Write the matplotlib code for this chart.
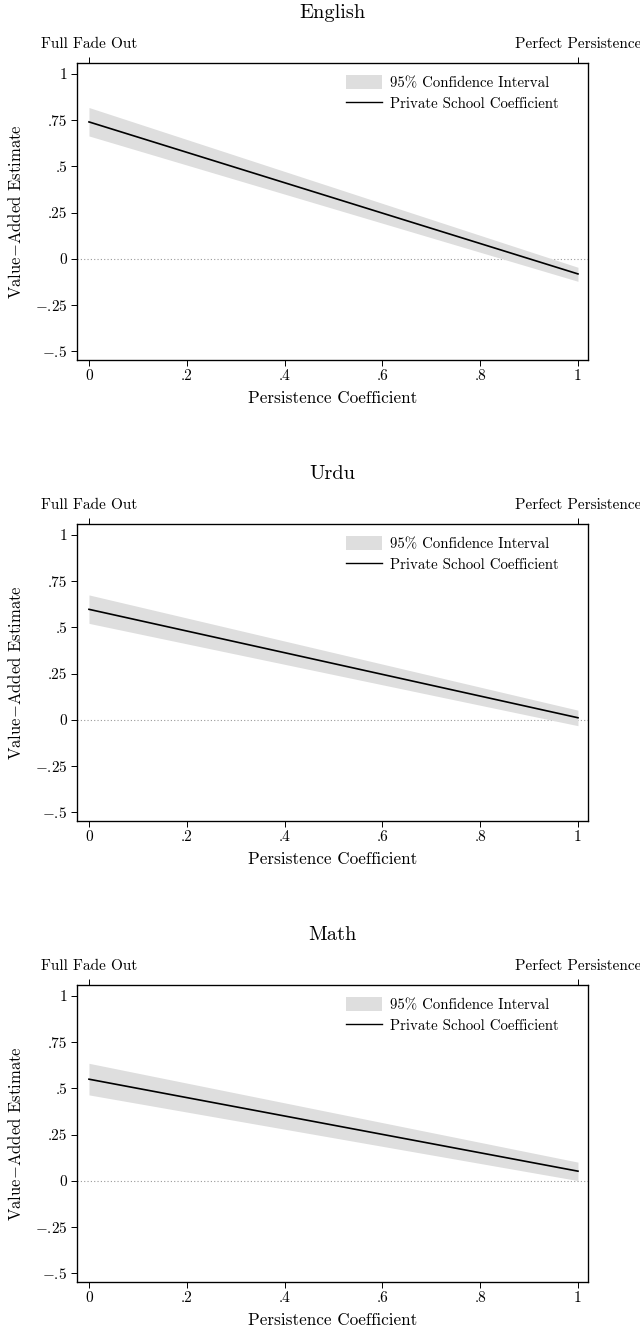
import matplotlib
matplotlib.use("Agg")
import matplotlib.pyplot as plt
from matplotlib.patches import Patch
from matplotlib.lines import Line2D

plt.rcParams['font.family'] = ['cmr10', 'DejaVu Serif']
plt.rcParams['mathtext.fontset'] = 'cm'
plt.rcParams['axes.formatter.use_mathtext'] = True

# persistence grid (endpoints of the estimated lines)
persistence = [0, 1]

subjects = ["English", "Urdu", "Math"]
coef = {
    "English": [0.741, -0.082],
    "Urdu": [0.598, 0.011],
    "Math": [0.550, 0.052],
}
ci_low = {
    "English": [0.665, -0.122],
    "Urdu": [0.522, -0.032],
    "Math": [0.465, 0.001],
}
ci_high = {
    "English": [0.819, -0.046],
    "Urdu": [0.676, 0.052],
    "Math": [0.636, 0.101],
}

xticks = [0, 0.2, 0.4, 0.6, 0.8, 1]
xticklabels = ["0", ".2", ".4", ".6", ".8", "1"]
yticks = [-0.5, -0.25, 0, 0.25, 0.5, 0.75, 1]
yticklabels = ["$-$.5", "$-$.25", "0", ".25", ".5", ".75", "1"]
top_labels = ["Full Fade Out", "Perfect Persistence"]

W, H = 640, 1334
fig = plt.figure(figsize=(W / 100, H / 100), dpi=100)

band_col = "#dedede"
ax_left, ax_right = 77, 588
ax_h = 297
tops = [63, 524, 985]

for name, top in zip(subjects, tops):
    ax = fig.add_axes([ax_left / W, (H - top - ax_h) / H, (ax_right - ax_left) / W, ax_h / H])
    ax.fill_between(persistence, ci_low[name], ci_high[name], color=band_col, lw=0)
    ax.plot(persistence, coef[name], color="black", lw=1.2)
    ax.axhline(0, color="#999999", lw=0.8, ls=(0, (1, 2)), zorder=0)

    ax.set_xlim(-0.0245, 1.0205)
    ax.set_ylim(-0.548, 1.06)
    ax.set_xticks(xticks)
    ax.set_xticklabels(xticklabels)
    ax.set_yticks(yticks)
    ax.set_yticklabels(yticklabels)
    ax.tick_params(direction="out", length=4, width=0.7, labelsize=11, pad=3)
    for sp in ax.spines.values():
        sp.set_linewidth(0.9)

    ax.set_xlabel("Persistence Coefficient", fontsize=12.3, labelpad=5)
    ax.set_ylabel("Value$-$Added Estimate", fontsize=12, labelpad=8)

    ax2 = ax.twiny()
    ax2.set_xlim(ax.get_xlim())
    ax2.set_xticks(persistence)
    ax2.set_xticklabels(top_labels)
    ax2.tick_params(direction="out", length=4, width=0.7, labelsize=11, pad=5)

    ax.text(0.5, 1 + 50 / ax_h, name, transform=ax.transAxes, ha="center", va="center", fontsize=14.7)

    handles = [Patch(facecolor=band_col, edgecolor="none"), Line2D([], [], color="black", lw=1.0)]
    ax.legend(handles, ["95% Confidence Interval", "Private School Coefficient"],
              loc="upper right", bbox_to_anchor=(0.955, 0.98), frameon=False, fontsize=10.7,
              handlelength=2.4, handleheight=1.05, handletextpad=0.55,
              borderaxespad=0, labelspacing=0.4)

fig.savefig("out.png", dpi=100)
